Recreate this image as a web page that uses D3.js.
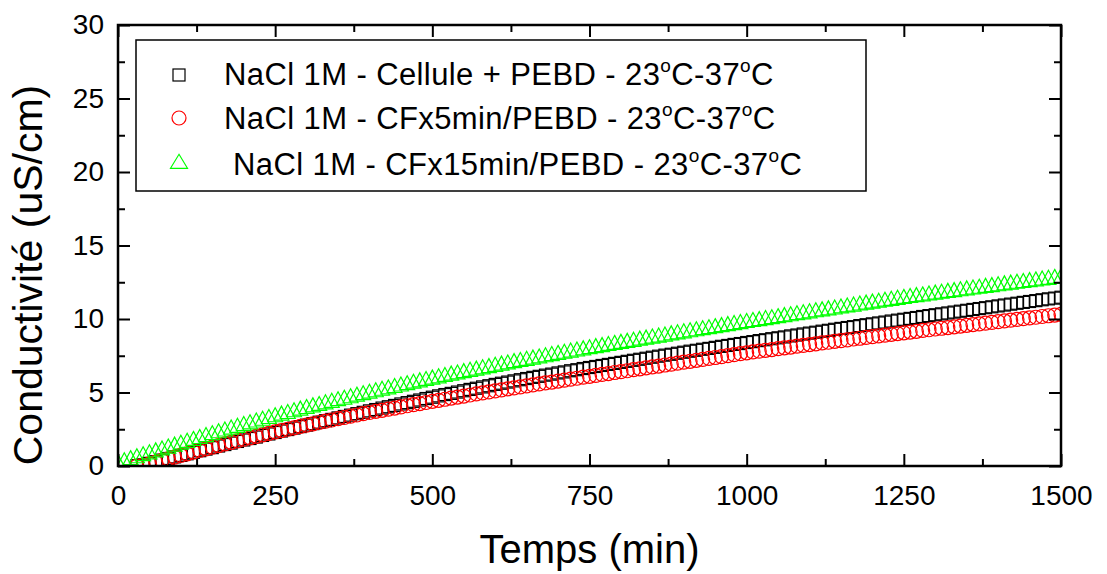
<!DOCTYPE html>
<html><head><meta charset="utf-8">
<script src="https://cdn.jsdelivr.net/npm/d3@7"></script>
<style>
body{margin:0;background:#fff}
text{font-family:"Liberation Sans",Arial,sans-serif;fill:#000}
</style>
</head><body>
<svg id="c" width="1107" height="574"></svg>
<script>
// sampling instants (min), every 10 min from 0 to 1500
const times = d3.range(0, 1501, 10);

// NaCl 1M - Cellule + PEBD (black squares)
const cellule = [null,null,null,0.02,0.08,0.18,0.29,0.40,0.51,0.62,0.72,0.83,0.93,1.04,1.15,1.25,1.36,1.46,1.56,1.67,1.77,1.87,1.97,2.08,2.18,2.28,2.38,2.48,2.58,2.68,2.78,2.88,2.98,3.08,3.17,3.27,3.37,3.46,3.56,3.65,3.75,3.84,3.94,4.03,4.12,4.22,4.31,4.40,4.49,4.59,4.68,4.77,4.86,4.94,5.03,5.12,5.21,5.29,5.38,5.46,5.55,5.63,5.71,5.79,5.87,5.95,6.03,6.10,6.18,6.25,6.33,6.40,6.48,6.55,6.63,6.70,6.77,6.84,6.91,6.98,7.05,7.12,7.19,7.26,7.33,7.40,7.47,7.54,7.60,7.67,7.74,7.81,7.87,7.94,8.00,8.07,8.14,8.20,8.27,8.33,8.40,8.46,8.53,8.59,8.66,8.72,8.78,8.85,8.91,8.98,9.04,9.10,9.17,9.23,9.30,9.36,9.42,9.48,9.55,9.61,9.67,9.73,9.79,9.86,9.92,9.98,10.04,10.10,10.17,10.23,10.29,10.35,10.41,10.47,10.53,10.59,10.65,10.71,10.77,10.83,10.89,10.95,11.01,11.07,11.13,11.19,11.25,11.31,11.37,11.42,11.48];

// NaCl 1M - CFx5min/PEBD (red circles)
const cf5 = [null,null,null,0.00,0.05,0.15,0.26,0.38,0.49,0.61,0.72,0.83,0.95,1.06,1.17,1.28,1.39,1.50,1.61,1.71,1.82,1.92,2.02,2.12,2.22,2.32,2.41,2.50,2.60,2.69,2.78,2.87,2.96,3.05,3.13,3.22,3.30,3.39,3.47,3.56,3.64,3.72,3.79,3.87,3.94,4.02,4.10,4.17,4.25,4.32,4.40,4.47,4.54,4.62,4.69,4.76,4.83,4.90,4.97,5.04,5.11,5.18,5.25,5.31,5.38,5.45,5.52,5.58,5.65,5.71,5.78,5.84,5.91,5.97,6.04,6.10,6.16,6.23,6.29,6.36,6.42,6.48,6.55,6.61,6.68,6.74,6.80,6.87,6.93,7.00,7.06,7.12,7.19,7.25,7.32,7.38,7.44,7.51,7.57,7.64,7.70,7.76,7.81,7.87,7.92,7.98,8.04,8.09,8.15,8.20,8.26,8.31,8.37,8.42,8.48,8.53,8.58,8.64,8.69,8.75,8.80,8.85,8.90,8.96,9.01,9.06,9.11,9.16,9.22,9.27,9.32,9.37,9.42,9.47,9.52,9.57,9.62,9.67,9.72,9.77,9.82,9.87,9.92,9.97,10.02,10.07,10.12,10.17,10.22,10.27,10.32];

// NaCl 1M - CFx15min/PEBD (green triangles)
const cf15 = [0.25,0.38,0.52,0.65,0.79,0.92,1.05,1.18,1.31,1.44,1.57,1.70,1.83,1.96,2.09,2.22,2.35,2.47,2.60,2.72,2.84,2.96,3.08,3.20,3.32,3.44,3.55,3.66,3.78,3.89,4.00,4.11,4.21,4.32,4.42,4.53,4.63,4.73,4.84,4.94,5.04,5.14,5.24,5.33,5.43,5.53,5.62,5.72,5.81,5.91,6.00,6.09,6.18,6.27,6.35,6.44,6.53,6.61,6.70,6.78,6.87,6.95,7.03,7.12,7.20,7.28,7.36,7.44,7.52,7.60,7.68,7.76,7.84,7.91,7.99,8.07,8.14,8.21,8.29,8.36,8.43,8.50,8.57,8.65,8.72,8.79,8.86,8.93,9.01,9.08,9.15,9.22,9.29,9.36,9.43,9.50,9.57,9.64,9.71,9.78,9.85,9.92,9.98,10.05,10.11,10.18,10.25,10.31,10.38,10.44,10.51,10.58,10.64,10.71,10.77,10.84,10.91,10.97,11.04,11.10,11.17,11.23,11.30,11.36,11.43,11.49,11.55,11.61,11.66,11.72,11.78,11.84,11.90,11.95,12.01,12.07,12.13,12.18,12.24,12.29,12.35,12.41,12.46,12.52,12.57,12.63,12.68,12.74,12.79,12.85,12.90];

const xTicks = [0,250,500,750,1000,1250,1500];
const xMinor = [125,375,625,875,1125,1375];
const yTicks = [0,5,10,15,20,25,30];
const yMinor = [2.5,7.5,12.5,17.5,22.5,27.5];
const legendLabels = ["NaCl 1M - Cellule + PEBD - 23°C-37°C","NaCl 1M - CFx5min/PEBD - 23°C-37°C"," NaCl 1M - CFx15min/PEBD - 23°C-37°C"];
const xTitle = "Temps (min)";
const yTitle = "Conductivité (uS/cm)";

const svg = d3.select("#c");
const L=118, R=1061, T=25, B=466;
const x = d3.scaleLinear().domain([0,1500]).range([L,R]);
const y = d3.scaleLinear().domain([0,30]).range([B,T]);

svg.append("defs").append("clipPath").attr("id","clip")
  .append("rect").attr("x",L).attr("y",T).attr("width",R-L).attr("height",B-T);

const plot = svg.append("g").attr("clip-path","url(#clip)");
const tri = (w,h) => `M0,${-h*0.55}L${w/2},${h*0.45}L${-w/2},${h*0.45}Z`;

// black squares
plot.append("g").selectAll("rect").data(times.map((t,i)=>[t,cellule[i]]).filter(d=>d[1]!==null))
  .join("rect").attr("x",d=>x(d[0])-6).attr("y",d=>y(d[1])-6).attr("width",12).attr("height",12)
  .attr("fill","none").attr("stroke","#000").attr("stroke-width",1.2);
// red circles
plot.append("g").selectAll("circle").data(times.map((t,i)=>[t,cf5[i]]).filter(d=>d[1]!==null))
  .join("circle").attr("cx",d=>x(d[0])).attr("cy",d=>y(d[1])).attr("r",7)
  .attr("fill","none").attr("stroke","#ff0000").attr("stroke-width",1.2);
// green triangles
plot.append("g").selectAll("path").data(times.map((t,i)=>[t,cf15[i]]))
  .join("path").attr("transform",d=>`translate(${x(d[0])},${y(d[1])})`).attr("d",tri(15,14))
  .attr("fill","none").attr("stroke","#00ff00").attr("stroke-width",1.2);

// axes (ticks inward on all four sides)
function styleAxis(g){ g.select(".domain").remove(); g.selectAll("line").attr("stroke","#000").attr("stroke-width",2); g.selectAll("text").style("font-size","28px").attr("fill","#000"); }
svg.append("g").attr("transform",`translate(0,${B})`)
  .call(d3.axisBottom(x).tickValues(xTicks).tickSize(-12).tickPadding(19).tickFormat(d3.format("d"))).call(styleAxis);
svg.append("g").attr("transform",`translate(0,${B})`)
  .call(d3.axisBottom(x).tickValues(xMinor).tickSize(-7).tickFormat("")).call(styleAxis);
svg.append("g").attr("transform",`translate(0,${T})`)
  .call(d3.axisTop(x).tickValues(xTicks).tickSize(-12).tickFormat("")).call(styleAxis);
svg.append("g").attr("transform",`translate(0,${T})`)
  .call(d3.axisTop(x).tickValues(xMinor).tickSize(-7).tickFormat("")).call(styleAxis);
svg.append("g").attr("transform",`translate(${L},0)`)
  .call(d3.axisLeft(y).tickValues(yTicks).tickSize(-12).tickPadding(14).tickFormat(d3.format("d"))).call(styleAxis);
svg.append("g").attr("transform",`translate(${L},0)`)
  .call(d3.axisLeft(y).tickValues(yMinor).tickSize(-7).tickFormat("")).call(styleAxis);
svg.append("g").attr("transform",`translate(${R},0)`)
  .call(d3.axisRight(y).tickValues(yTicks).tickSize(-12).tickFormat("")).call(styleAxis);
svg.append("g").attr("transform",`translate(${R},0)`)
  .call(d3.axisRight(y).tickValues(yMinor).tickSize(-7).tickFormat("")).call(styleAxis);

// frame
svg.append("rect").attr("x",L).attr("y",T).attr("width",R-L).attr("height",B-T)
  .attr("fill","none").attr("stroke","#000").attr("stroke-width",2.5);

// axis titles
svg.append("text").attr("x",(L+R)/2).attr("y",563).attr("text-anchor","middle").style("font-size","40px").text(xTitle);
svg.append("text").attr("transform","translate(42,275) rotate(-90)").attr("text-anchor","middle").style("font-size","41px").text(yTitle);

// legend
const lg = svg.append("g");
lg.append("rect").attr("x",136).attr("y",40).attr("width",730).attr("height",151)
  .attr("fill","#fff").attr("stroke","#000").attr("stroke-width",1.5);
const rows = [75,118,162];
const baselines = [85,129,175];
lg.append("rect").attr("x",179-6).attr("y",rows[0]-6).attr("width",12).attr("height",12).attr("fill","none").attr("stroke","#000").attr("stroke-width",1.2);
lg.append("circle").attr("cx",179).attr("cy",rows[1]).attr("r",7).attr("fill","none").attr("stroke","#ff0000").attr("stroke-width",1.2);
lg.append("path").attr("transform",`translate(179,${rows[2]})`).attr("d",tri(17,14)).attr("fill","none").attr("stroke","#00ff00").attr("stroke-width",1.2);
legendLabels.forEach((lab,i)=>{
  const t = lg.append("text").attr("x",224).attr("y",baselines[i]).style("font-size","31px").style("white-space","pre").style("letter-spacing","0.4px");
  const parts = lab.split("°");
  parts.forEach((p,j)=>{
    if(j>0){
      t.append("tspan").attr("dy",-13).style("font-size","19px").text("o");
      t.append("tspan").attr("dy",13).text(p);
    } else t.append("tspan").text(p);
  });
});
</script>
</body></html>
